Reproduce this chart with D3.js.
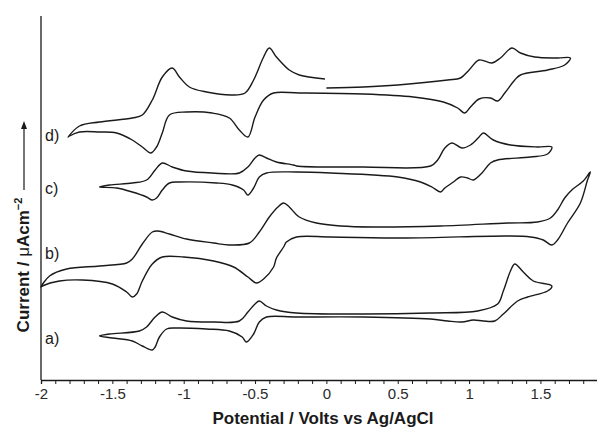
<!DOCTYPE html>
<html><head><meta charset="utf-8">
<script src="https://cdn.jsdelivr.net/npm/d3@7"></script>
<style>
body{margin:0;background:#fff}
svg{display:block}
text{font-family:"Liberation Sans",Arial,Helvetica,sans-serif}
</style>
</head><body>
<svg id="chart" width="597" height="428"></svg>
<script>
// ---- data (potential in V vs Ag/AgCl, current in arbitrary stacked units) ----
const xTicks = [-2, -1.5, -1, -0.5, 0, 0.5, 1, 1.5];
const curveLabels = ["a)", "b)", "c)", "d)"];
const labelCurrent = [42, 127, 192, 245];

const curveA = [
  [-0.21,67],[0.26,66],[0.73,67],[1.06,69],[1.20,76],[1.24,89],[1.29,109],[1.32,116],[1.38,108],[1.45,99],[1.58,94],
  [1.55,89],[1.41,83],[1.34,79],[1.24,66],[1.18,59],[1.10,59],[1.03,60],[0.95,58],[0.85,59],[0.73,61],[0.26,63],[-0.21,63],
  [-0.42,63],[-0.47,58],[-0.51,46],[-0.56,38],[-0.59,43],[-0.68,49],[-0.84,51],[-1.05,52],[-1.12,51],[-1.17,43],[-1.20,33],
  [-1.22,30],[-1.29,34],[-1.36,39],[-1.50,42],[-1.59,44],
  [-1.52,46],[-1.31,49],[-1.26,53],[-1.20,63],[-1.15,68],[-1.08,63],[-0.98,59],[-0.79,58],[-0.61,59],[-0.55,68],[-0.50,76],
  [-0.47,79],[-0.42,74],[-0.35,70]
];

const curveB = [
  [-2.00,93],[-1.94,104],[-1.82,111],[-1.59,114],[-1.40,117],[-1.36,121],[-1.29,136],[-1.22,148],[-1.18,149],[-1.10,146],
  [-0.98,141],[-0.79,137],[-0.68,135],[-0.54,137],[-0.47,148],[-0.40,163],[-0.34,173],[-0.30,177],[-0.26,173],[-0.19,163],
  [-0.07,157],[0.10,154],[0.33,153],[0.80,154],[1.27,157],[1.48,158],[1.57,162],[1.62,170],[1.67,182],[1.72,190],[1.80,199],[1.85,208],
  [1.83,200],[1.78,177],[1.69,157],[1.62,140],[1.58,135],[1.52,140],[1.43,143],[1.27,144],[0.56,142],[0.03,143],[-0.21,143],
  [-0.28,138],[-0.30,133],[-0.35,122],[-0.37,113],[-0.44,101],[-0.49,97],[-0.55,103],[-0.65,113],[-0.79,119],[-1.00,123],
  [-1.15,123],[-1.22,116],[-1.29,99],[-1.33,86],[-1.36,83],[-1.40,88],[-1.50,96],[-1.71,100],[-1.87,99],[-1.99,94]
];

const curveC = [
  [-0.21,214],[0.26,213],[0.73,214],[0.78,220],[0.83,232],[0.88,237],[0.95,232],[1.01,235],[1.07,243],[1.10,247],[1.17,240],
  [1.29,235],[1.48,233],[1.58,233],
  [1.55,226],[1.43,223],[1.20,220],[1.15,217],[1.09,207],[1.03,200],[0.99,202],[0.94,203],[0.89,198],[0.83,192],[0.80,188],
  [0.74,193],[0.66,198],[0.50,203],[0.03,207],[-0.21,208],
  [-0.42,207],[-0.47,203],[-0.51,192],[-0.55,185],[-0.58,190],[-0.66,195],[-0.77,197],[-1.03,198],[-1.10,197],[-1.15,190],
  [-1.19,182],[-1.22,180],[-1.26,183],[-1.36,188],[-1.47,192],[-1.59,193],
  [-1.52,195],[-1.36,197],[-1.26,200],[-1.20,210],[-1.15,217],[-1.08,213],[-0.98,209],[-0.80,207],[-0.61,207],[-0.55,213],
  [-0.50,222],[-0.47,225],[-0.42,222],[-0.35,218],[-0.23,215]
];

const curveD = [
  [0.00,292],[0.26,293],[0.50,295],[0.85,300],[0.94,302],[1.00,310],[1.07,320],[1.16,317],[1.22,322],[1.30,332],[1.36,327],
  [1.46,323],[1.62,322],[1.71,322],
  [1.67,315],[1.55,310],[1.36,305],[1.32,300],[1.25,287],[1.20,279],[1.15,282],[1.07,281],[1.01,273],[0.97,267],[0.92,272],
  [0.82,278],[0.61,283],[0.26,286],[-0.19,287],[-0.37,287],[-0.44,280],[-0.50,263],[-0.55,243],[-0.61,250],[-0.68,262],
  [-0.80,267],[-0.98,268],[-1.10,265],[-1.15,247],[-1.19,233],[-1.23,227],[-1.29,233],[-1.36,240],[-1.47,247],[-1.59,248],
  [-1.73,248],[-1.80,244],[-1.81,243],
  [-1.73,254],[-1.59,258],[-1.36,262],[-1.29,265],[-1.22,280],[-1.15,303],[-1.08,312],[-1.03,303],[-0.96,293],[-0.84,288],
  [-0.66,285],[-0.57,287],[-0.51,300],[-0.44,323],[-0.40,332],[-0.35,323],[-0.26,310],[-0.19,305],[-0.01,301]
];

// ---- layout ----
const svg = d3.select("#chart");
const x = d3.scaleLinear().domain([-2, 1.9]).range([41, 597.5]);
const y = d3.scaleLinear().domain([0, 364]).range([380, 16]);
const ink = "#1a1a1a";

// curves
const closedLine = d3.line().x(d => x(d[0])).y(d => y(d[1])).curve(d3.curveCatmullRomClosed.alpha(0.5));
const openLine = d3.line().x(d => x(d[0])).y(d => y(d[1])).curve(d3.curveCatmullRom.alpha(0.5));
[curveA, curveB, curveC].forEach(c => {
  svg.append("path").attr("d", closedLine(c)).attr("fill", "none").attr("stroke", ink).attr("stroke-width", 1.4).attr("stroke-linejoin", "round");
});
svg.append("path").attr("d", openLine(curveD)).attr("fill", "none").attr("stroke", ink).attr("stroke-width", 1.4).attr("stroke-linejoin", "round");

// x axis
const minor = d3.range(-2, 1.9001, 0.1).map(v => Math.round(v * 10) / 10);
const xAxis = d3.axisBottom(x).tickValues(minor).tickSize(4)
  .tickFormat(d => xTicks.includes(d) ? String(d) : "");
const gx = svg.append("g").attr("transform", `translate(0,${y(0)})`).call(xAxis);
gx.select(".domain").attr("stroke", ink).attr("stroke-width", 1.3);
gx.selectAll(".tick line").attr("stroke", ink).attr("stroke-width", 1);
gx.selectAll(".tick text").attr("font-size", 15).attr("fill", "#2a2a2a").attr("y", 8).attr("dy", "0.75em")
  .style("font-family", '"Liberation Sans",Arial,sans-serif');

// y axis (no ticks)
svg.append("line").attr("x1", x(-2)).attr("x2", x(-2)).attr("y1", 16).attr("y2", y(0))
  .attr("stroke", ink).attr("stroke-width", 1.3);

// curve labels
svg.selectAll(".clab").data(curveLabels).enter().append("text")
  .attr("x", x(-1.972)).attr("y", (d, i) => y(labelCurrent[i]) + 5.5)
  .attr("font-size", 16).attr("fill", ink).text(d => d);

// axis titles
svg.append("text").attr("x", 323).attr("y", 424).attr("text-anchor", "middle")
  .attr("font-size", 17).attr("font-weight", "bold").attr("fill", ink)
  .text("Potential / Volts vs Ag/AgCl");

const yt = svg.append("text").attr("transform", "translate(29,265) rotate(-90)")
  .attr("text-anchor", "middle").attr("font-size", 17).attr("font-weight", "bold").attr("fill", ink);
yt.append("tspan").text("Current / ");
yt.append("tspan").attr("font-weight", "normal").text("\u03bc");
yt.append("tspan").text("Acm");
yt.append("tspan").attr("font-size", 11).attr("dy", -7).text("\u22122");

// arrow
svg.append("line").attr("x1", 24).attr("x2", 24).attr("y1", 190).attr("y2", 128)
  .attr("stroke", ink).attr("stroke-width", 1.2);
svg.append("path").attr("d", "M24,121 L21,129 L27,129 Z").attr("fill", ink);
</script>
</body></html>
